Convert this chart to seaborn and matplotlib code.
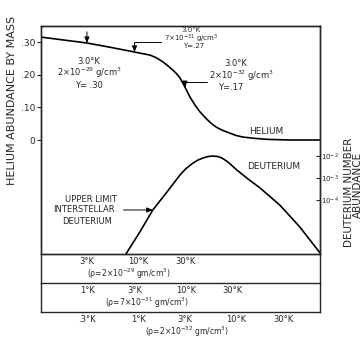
"""Helium and deuterium abundance versus present radiation temperature."""

import matplotlib
matplotlib.use("Agg")
import matplotlib.pyplot as plt
import numpy as np
import seaborn as sns

W, H = 362, 339

# temperatures are on the rho = 2e-32 g/cm^3 scale (the bottom scale), in K
HELIUM_TEMP = [0.102, 0.30, 0.515, 0.83, 1.04, 1.32, 1.55, 1.79, 2.01, 2.26, 2.48, 2.67, 2.86,
               3.07, 3.38, 3.80, 4.27, 5.04, 5.66, 6.37, 7.33, 8.63, 9.94, 11.7, 15.5, 20.6,
               35.3, 71.6]
HELIUM_Y = [0.315, 0.297, 0.284, 0.272, 0.266, 0.260, 0.251, 0.239, 0.227, 0.214, 0.202, 0.190,
            0.174, 0.156, 0.131, 0.107, 0.086, 0.063, 0.049, 0.038, 0.029, 0.021, 0.014, 0.009,
            0.005, 0.002, 0.0, 0.0]

DEUT_TEMP = [0.75, 1.04, 1.41, 1.96, 2.67, 3.07, 3.62, 4.07, 4.58, 5.15, 5.79, 6.51, 7.16,
             8.24, 10.2, 13.2, 17.5, 27.9, 44.7, 71.6]
DEUT_LOG = [-6.45, -5.45, -4.45, -3.64, -2.86, -2.57, -2.32, -2.18, -2.09, -2.02, -2.00, -2.02,
            -2.09, -2.27, -2.64, -3.04, -3.45, -4.23, -5.23, -6.40]
UPPER_LIMIT_LOG = -4.45

# the three temperature scales differ by (density ratio)^(1/3)
RHO_TOP, RHO_MID, RHO_BOT = 2e-29, 7e-31, 2e-32
TOP_TICKS = [3, 10, 30, 100, 300]
TOP_LABELS = ["3°K", "10°K", "30°K", "", ""]
MID_TICKS = [1, 3, 10, 30, 100]
MID_LABELS = ["1°K", "3°K", "10°K", "30°K", ""]
BOT_TICKS = [0.3, 1, 3, 10, 30]
BOT_LABELS = [".3°K", "1°K", "3°K", "10°K", "30°K"]

HELIUM_TICKS = [0, 0.1, 0.2, 0.3]
HELIUM_LABELS = ["0", ".10", ".20", ".30"]
DEUT_TICKS = [1e-2, 1e-3, 1e-4]
DEUT_LABELS = [r"10$^{-2}$", r"10$^{-3}$", r"10$^{-4}$"]

XLIM = (0.102, 71.6)
HELIUM_LIM = (-0.349, 0.349)
DEUT_LIM = (10 ** -6.45, 10 ** 3.91)

sns.set_style("white")
plt.rcParams["font.family"] = ["DejaVu Sans"]
plt.rcParams["mathtext.default"] = "regular"
plt.rcParams["axes.linewidth"] = 1.0

fig = plt.figure(figsize=(W / 100, H / 100), dpi=100)


def rect(x0, y0, x1, y1):
    """Pixel box (top-left origin) to figure fraction rect."""
    return [x0 / W, 1 - y1 / H, (x1 - x0) / W, (y1 - y0) / H]


def ftext(x, y, s, size=6, **kw):
    fig.text(x / W, 1 - y / H, s, ha="center", va="center", fontsize=size, **kw)


def shift(ticks, rho):
    return np.array(ticks) / (rho / RHO_BOT) ** (1 / 3)


# main panel: helium (left, linear) and deuterium (right, log)
ax = fig.add_axes(rect(41, 26, 320, 254))
ax.set_xscale("log")
ax.set_xlim(XLIM)
ax.set_ylim(HELIUM_LIM)
sns.lineplot(x=HELIUM_TEMP, y=HELIUM_Y, ax=ax, color="black", lw=1.2)
ax.set_yticks(HELIUM_TICKS, HELIUM_LABELS)
ax.set_xticks(shift(TOP_TICKS, RHO_TOP), TOP_LABELS)
ax.minorticks_off()
ax.tick_params(axis="y", direction="out", length=3, width=0.8, pad=1, labelsize=6.5)
ax.tick_params(axis="x", direction="in", length=4, width=0.8, pad=2.5, labelsize=6)

ax2 = ax.twinx()
ax2.set_yscale("log")
ax2.set_ylim(DEUT_LIM)
deut = 10.0 ** np.array(DEUT_LOG)
sns.lineplot(x=DEUT_TEMP, y=deut, ax=ax2, color="black", lw=1.2)
ax2.set_yticks(DEUT_TICKS, DEUT_LABELS)
ax2.minorticks_off()
ax2.tick_params(axis="y", direction="in", length=3, width=0.8, pad=1, labelsize=5)

# arrows to the three 3.0 K models on the helium curve
arrow = dict(arrowstyle="-|>,head_length=0.35,head_width=0.15", color="black", lw=0.7,
             shrinkA=0, shrinkB=0)
log_t = np.log10(HELIUM_TEMP)
for rho, offset in [(RHO_TOP, (0, 8)), (RHO_MID, (19, 7)), (RHO_BOT, (16, 4))]:
    t3 = shift([3.0], rho)[0]
    y3 = np.interp(np.log10(t3), log_t, HELIUM_Y)
    style = dict(arrow)
    if offset[0]:
        style["connectionstyle"] = "angle,angleA=0,angleB=90,rad=0"
    ax.annotate("", xy=(t3, y3), xytext=offset, textcoords="offset points", arrowprops=style)

# upper limit of interstellar deuterium on the rising branch
rise = slice(0, 8)
t_lim = 10 ** np.interp(UPPER_LIMIT_LOG, DEUT_LOG[rise], np.log10(DEUT_TEMP[rise]))
ax2.annotate("", xy=(t_lim, 10 ** UPPER_LIMIT_LOG), xytext=(-21, 0), textcoords="offset points",
             arrowprops=arrow)

# temperature scale strips
for box, ticks, labels, rho in [((41, 254, 320, 283), MID_TICKS, MID_LABELS, RHO_MID),
                                ((41, 283, 320, 312), BOT_TICKS, BOT_LABELS, RHO_BOT)]:
    s = fig.add_axes(rect(*box), facecolor="none")
    s.set_xscale("log")
    s.set_xlim(XLIM)
    s.set_yticks([])
    s.spines["top"].set_visible(False)
    s.set_xticks(shift(ticks, rho), labels)
    s.minorticks_off()
    s.tick_params(axis="x", direction="in", length=4, width=0.8, pad=2.5, labelsize=6)

ftext(129, 273.5, r"($\rho$=2×10$^{-29}$ gm/cm$^3$)", size=5.5)
ftext(147, 302.5, r"($\rho$=7×10$^{-31}$ gm/cm$^3$)", size=5.5)
ftext(187, 332, r"($\rho$=2×10$^{-32}$ gm/cm$^3$)", size=5.5)

# model labels
ftext(89, 62, "3.0°K")
ftext(89, 73, r"2×10$^{-29}$ g/cm$^3$")
ftext(89, 85, "Y= .30")
ftext(191, 29.5, "3.0°K", size=5)
ftext(191, 38.5, r"7×10$^{-31}$ g/cm$^3$", size=5)
ftext(194, 46.5, "Y=.27", size=5)
ftext(236, 64, "3.0°K")
ftext(241, 76, r"2×10$^{-32}$ g/cm$^3$")
ftext(231, 88, "Y=.17")
ftext(266, 132, "HELIUM", size=6.5)
ftext(274, 167, "DEUTERIUM", size=6.5)
ftext(91, 200, "UPPER LIMIT")
ftext(84, 210, "INTERSTELLAR")
ftext(87, 221, "DEUTERIUM")

ftext(12, 100, "HELIUM ABUNDANCE BY MASS", size=8, rotation=90)
ftext(348.5, 192, "DEUTERIUM NUMBER", size=7.5, rotation=90)
ftext(357.5, 185, "ABUNDANCE", size=7.5, rotation=90)

fig.savefig("out.png", dpi=100)
